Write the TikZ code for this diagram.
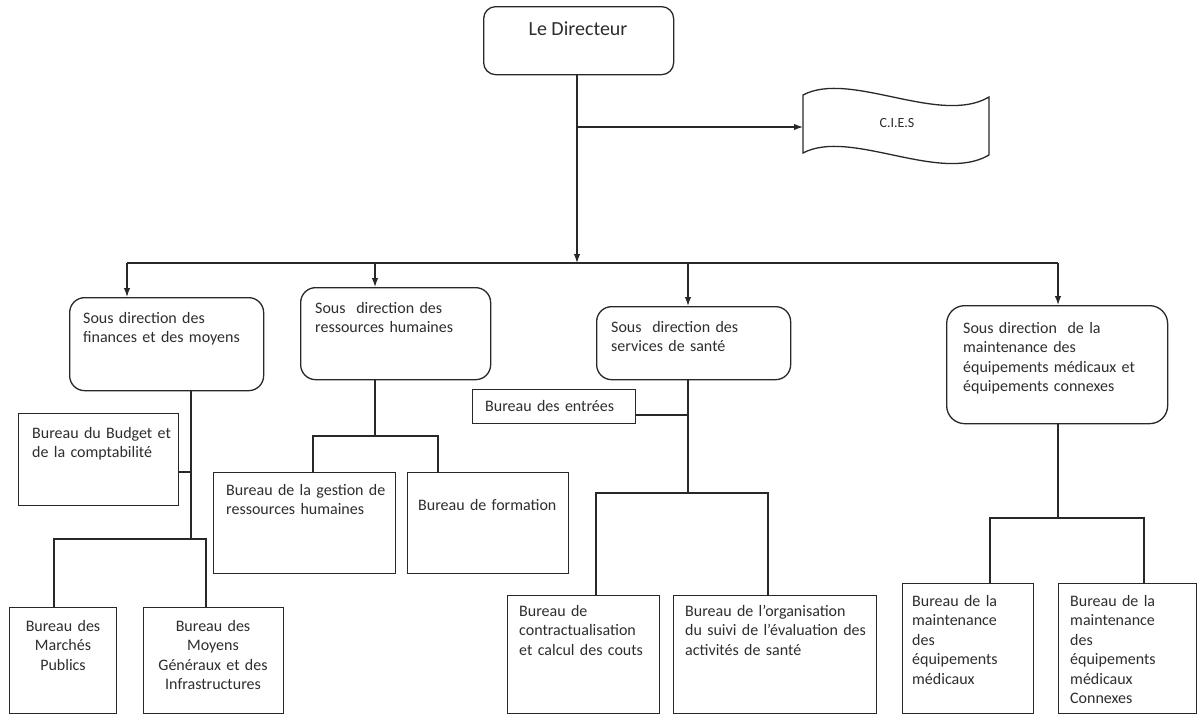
\documentclass[tikz,border=0pt]{standalone}
\usepackage{fontspec}
\setmainfont{Carlito}
\usetikzlibrary{arrows.meta}
\definecolor{ink}{RGB}{48,44,48}
\definecolor{wire}{RGB}{40,40,40}
\tikzset{
  bx/.style={draw=wire, line width=1.3pt, rectangle, inner sep=0pt, anchor=north west, fill=white},
  rbx/.style={bx, rounded corners=14pt},
  txt/.style={text=ink, inner sep=0pt, font=\fontsize{16}{19.5}\selectfont},
  ltxt/.style={txt, anchor=base west, align=left, text width=#1},
  ctxt/.style={txt, anchor=base, align=center, text width=#1},
  wire/.style={draw=wire, line width=1.3pt},
  arr/.style={wire, -{Latex[length=9pt,width=6.5pt]}}
}
\begin{document}
\begin{tikzpicture}[x=1pt,y=-1pt]
\useasboundingbox (0,0) rectangle (1201,715);
\fill[white] (0,0) rectangle (1201,715);

% head of the organisation
\node[rbx, rounded corners=12pt, minimum width=190pt, minimum height=68pt] (dir) at (483,6) {};
\node[txt, anchor=base, font=\fontsize{20}{24}\selectfont] (tdir) at (578,35) {Le Directeur};

% C.I.E.S (wavy tape shape)
\draw[wire, fill=white] (803,95) .. controls (850,70) and (940,126) .. (989,97)
  -- (989,155) .. controls (940,184) and (850,128) .. (803,153) -- cycle;
\coordinate (cies) at (803,127);
\node[txt, anchor=base, font=\fontsize{14}{17}\selectfont] (tcies) at (897,127) {C.I.E.S};

% sub-directorates
\node[rbx, rounded corners=15pt, minimum width=194pt, minimum height=93pt] (fin) at (69,297) {};
\node[ltxt=190pt] (tfin) at (83,323) {Sous direction des\\finances et des moyens};

\node[rbx, rounded corners=15pt, minimum width=190pt, minimum height=92pt] (rh) at (300,287) {};
\node[ltxt=180pt] (trh) at (315,313) {Sous\ \ direction des\\ressources humaines};

\node[rbx, rounded corners=15pt, minimum width=194pt, minimum height=73pt] (sante) at (596,306) {};
\node[ltxt=180pt] (tsante) at (611,332) {Sous\ \ direction des\\services de santé};

\node[rbx, rounded corners=18pt, minimum width=221pt, minimum height=118pt] (maint) at (946,305) {};
\node[ltxt=200pt] (tmaint) at (963,333) {Sous direction\ \ de la\\maintenance des\\équipements médicaux et\\équipements connexes};

% offices
\node[bx, minimum width=160pt, minimum height=92pt] (budget) at (18,413) {};
\node[ltxt=150pt] (tbudget) at (32,438) {Bureau du Budget et\\de la comptabilité};

\node[bx, minimum width=107pt, minimum height=106pt] (marches) at (9,607) {};
\node[ctxt=105pt] (tmarches) at (63,631) {Bureau des\\Marchés\\Publics};

\node[bx, minimum width=140pt, minimum height=106pt] (moyens) at (143,607) {};
\node[ctxt=138pt] (tmoyens) at (213,631) {Bureau des\\Moyens\\Généraux et des\\Infrastructures};

\node[bx, minimum width=182pt, minimum height=101pt] (gestion) at (213,472) {};
\node[ltxt=175pt] (tgestion) at (226,495) {Bureau de la gestion de\\ressources humaines};

\node[bx, minimum width=161pt, minimum height=101pt] (formation) at (407,472) {};
\node[ltxt=150pt] (tformation) at (418,510) {Bureau de formation};

\node[bx, minimum width=163pt, minimum height=34pt] (entrees) at (472,389) {};
\node[ltxt=150pt] (tentrees) at (485,411) {Bureau des entrées};

\node[bx, minimum width=152pt, minimum height=118pt] (contrat) at (507,595) {};
\node[ltxt=145pt] (tcontrat) at (519,616) {Bureau de\\contractualisation\\et calcul des couts};

\node[bx, minimum width=203pt, minimum height=118pt] (organ) at (673,595) {};
\node[ltxt=195pt] (torgan) at (685,616) {Bureau de l’organisation\\du suivi de l’évaluation des\\activités de santé};

\node[bx, minimum width=131pt, minimum height=130pt] (mmed) at (902,583) {};
\node[ltxt=120pt] (tmmed) at (912,606) {Bureau de la\\maintenance\\des\\équipements\\médicaux};

\node[bx, minimum width=138pt, minimum height=130pt] (mcon) at (1058,583) {};
\node[ltxt=125pt] (tmcon) at (1070,606) {Bureau de la\\maintenance\\des\\équipements\\médicaux\\Connexes};

% junction points
\coordinate (bar) at (577,263);
\coordinate (ciesJ) at (577,127);
\coordinate (barF) at (127,263);
\coordinate (barR) at (375,263);
\coordinate (barS) at (688,263);
\coordinate (barM) at (1058,263);

\coordinate (finJ) at (191,539);
\coordinate (budJ) at (191,472);
\coordinate (finL) at (54,539);
\coordinate (finR) at (206,539);

\coordinate (rhJ) at (375,436);
\coordinate (rhL) at (313,436);
\coordinate (rhR) at (438,436);

\coordinate (saJ) at (688,493);
\coordinate (entJ) at (688,415);
\coordinate (saL) at (596,493);
\coordinate (saR) at (768,493);

\coordinate (maJ) at (1058,518);
\coordinate (maL) at (990,518);
\coordinate (maR) at (1144,518);

% director to the sub-directorates and to the C.I.E.S
\draw[arr] (dir.south -| bar) -- (bar);
\draw[arr] (ciesJ) -- (cies);
\draw[wire] (barF) -- (barM);
\draw[arr] (barF) -- (barF |- fin.north);
\draw[arr] (barR) -- (barR |- rh.north);
\draw[arr] (barS) -- (barS |- sante.north);
\draw[arr] (barM) -- (barM |- maint.north);

% finances
\draw[wire] (finJ |- fin.south) -- (finJ);
\draw[wire] (budJ -| budget.east) -- (budJ);
\draw[wire] (finL |- marches.north) -- (finL) -- (finR) -- (finR |- moyens.north);

% human resources
\draw[wire] (rhJ |- rh.south) -- (rhJ);
\draw[wire] (rhL |- gestion.north) -- (rhL) -- (rhR) -- (rhR |- formation.north);

% health services
\draw[wire] (saJ |- sante.south) -- (saJ);
\draw[wire] (entJ -| entrees.east) -- (entJ);
\draw[wire] (saL |- contrat.north) -- (saL) -- (saR) -- (saR |- organ.north);

% maintenance
\draw[wire] (maJ |- maint.south) -- (maJ);
\draw[wire] (maL |- mmed.north) -- (maL) -- (maR) -- (maR |- mcon.north);
\end{tikzpicture}
\end{document}
